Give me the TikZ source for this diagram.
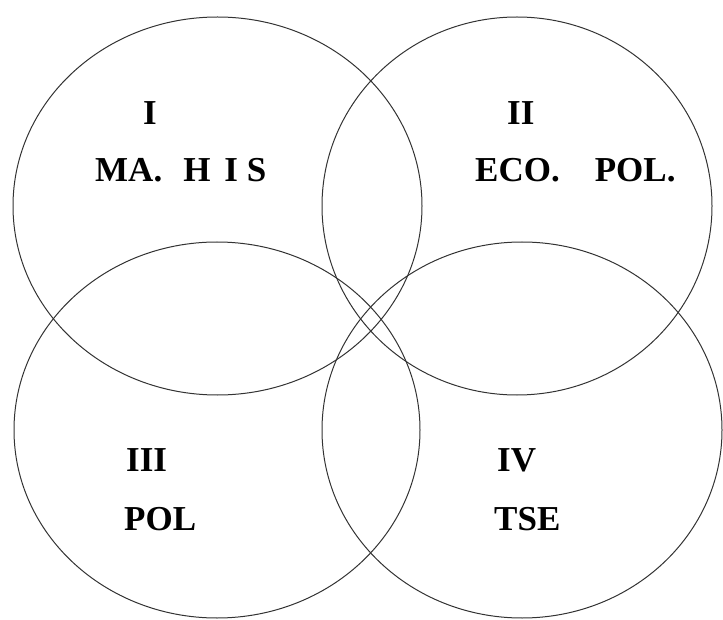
\documentclass[tikz,border=0pt]{standalone}
\usepackage{fontspec}
\setmainfont{Liberation Serif}
\usetikzlibrary{positioning}

\begin{document}
\begin{tikzpicture}[
x=1pt, y=-1pt,
ring/.style={draw=black!80, line width=1pt},
tag/.style={anchor=base west, inner sep=0pt, font=\fontsize{35}{40}\selectfont\bfseries}
]
\useasboundingbox (0,0) rectangle (723,620);
% centres of the four rings
\coordinate (cI) at (217.5,206);
\coordinate (cII) at (517,206);
\coordinate (cIII) at (217,430);
\coordinate (cIV) at (522,430);
\draw[ring] (cI) ellipse [x radius=204.5, y radius=189];
\draw[ring] (cII) ellipse [x radius=195, y radius=189];
\draw[ring] (cIII) ellipse [x radius=203, y radius=188];
\draw[ring] (cIV) ellipse [x radius=200, y radius=188];
% labels
\node[tag] (numI) at (143,125) {I};
\node[tag] (txtI) at (95,182) {MA.\hspace{0.6em}H\hspace{0.4em}I\hspace{0.25em}S};
\node[tag] (numII) at (507,125) {II};
\node[tag] (txtII) at (475,182) {ECO.\hspace{1em}POL.};
\node[tag] (numIII) at (126,471) {III};
\node[tag] (txtIII) at (124,530) {POL};
\node[tag] (numIV) at (497,471) {IV};
\node[tag] (txtIV) at (494,530) {TSE};
\end{tikzpicture}
\end{document}
